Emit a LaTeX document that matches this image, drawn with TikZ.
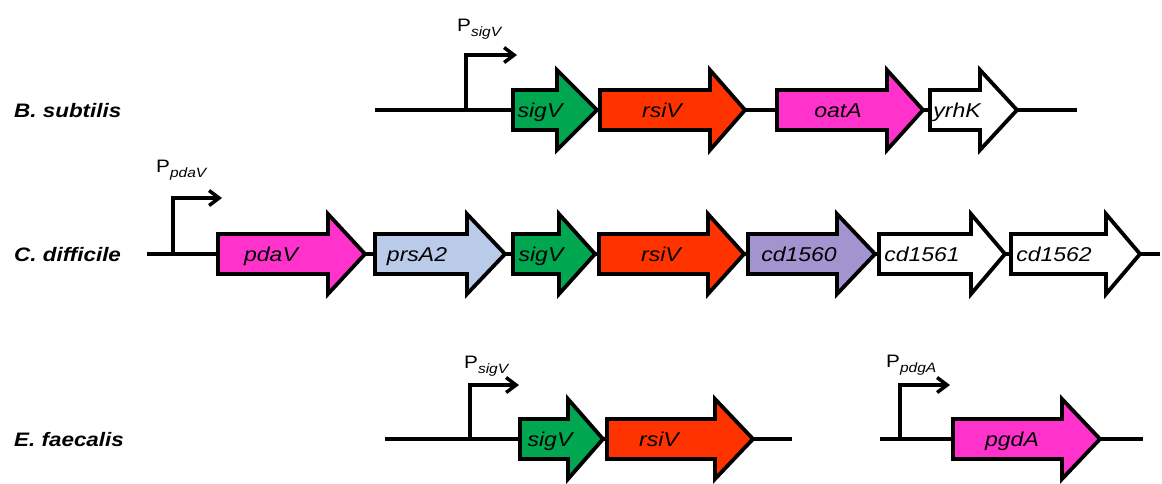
\documentclass[tikz,border=0pt]{standalone}
\usepackage{fontspec}
\setmainfont{Liberation Sans}
\usetikzlibrary{arrows.meta}
\definecolor{gGreen}{RGB}{0,166,80}
\definecolor{gRed}{RGB}{255,51,0}
\definecolor{gMag}{RGB}{255,51,204}
\definecolor{gBlue}{RGB}{185,203,232}
\definecolor{gPurp}{RGB}{163,148,207}
\newcommand\widetext[1]{\scalebox{1.15}[1]{#1}}
% gene: #1 x0, #2 head base, #3 tip, #4 y centre, #5 fill, #6 label, #7 label x, #8 node name
\newcommand\gene[8]{%
  \draw[genebox, fill=#5] ({#1},{#4-20}) -- ({#2},{#4-20}) -- ({#2},{#4-40}) -- ({#3},{#4})
    -- ({#2},{#4+40}) -- ({#2},{#4+20}) -- ({#1},{#4+20}) -- cycle;
  \node[genelabel] (#8) at ({#7},{#4+7}) {\widetext{#6}};}
\newcommand\promlabel[2]{\widetext{{\fontsize{18}{21}\selectfont P}\raisebox{-5pt}{\fontsize{13.5}{15}\selectfont\itshape #2}}}
\tikzset{
  genebox/.style={draw=black, line width=3.8pt, line join=miter, miter limit=10},
  genelabel/.style={anchor=base, inner sep=0pt, font=\fontsize{20}{23}\selectfont\itshape},
  dna/.style={draw=black, line width=3.5pt},
  prom/.style={draw=black, line width=3.5pt, -{Straight Barb[length=10pt,width=15pt,line width=3.5pt]}},
  orglabel/.style={anchor=base west, inner sep=0pt, font=\fontsize{19.5}{22}\selectfont\bfseries\itshape},
  plabel/.style={anchor=base west, inner sep=0pt},
}
\begin{document}
\begin{tikzpicture}[x=1pt,y=-1pt]
\useasboundingbox (0,0) rectangle (1162,483);
\fill[white] (0,0) rectangle (1162,483);
% organism labels
\node[orglabel] (bs) at (14,117) {\widetext{B. subtilis}};
\node[orglabel] (cd) at (14,261) {\widetext{C. difficile}};
\node[orglabel] (ef) at (14,446) {\widetext{E. faecalis}};
% DNA backbones
\coordinate (r1a) at (375,110); \coordinate (r1b) at (1077,110);
\coordinate (r2a) at (147,254); \coordinate (r2b) at (1160,254);
\coordinate (r3a) at (385,439); \coordinate (r3b) at (792,439);
\coordinate (r3c) at (880,439); \coordinate (r3d) at (1143,439);
\draw[dna] (r1a) -- (r1b);
\draw[dna] (r2a) -- (r2b);
\draw[dna] (r3a) -- (r3b);
\draw[dna] (r3c) -- (r3d);
% promoters
\coordinate (p1) at (466,110); \coordinate (p1e) at (517,55);
\draw[prom] (p1) |- (p1e);
\node[plabel] (pl1) at (457,31) {\promlabel{}{sigV}};
\coordinate (p2) at (173,254); \coordinate (p2e) at (222,198);
\draw[prom] (p2) |- (p2e);
\node[plabel] (pl2) at (156,172) {\promlabel{}{pdaV}};
\coordinate (p3) at (470,439); \coordinate (p3e) at (519,385);
\draw[prom] (p3) |- (p3e);
\node[plabel] (pl3) at (464,368) {\promlabel{}{sigV}};
\coordinate (p4) at (900,439); \coordinate (p4e) at (950,385);
\draw[prom] (p4) |- (p4e);
\node[plabel] (pl4) at (886,367) {\promlabel{}{pdgA}};
% B. subtilis genes
\gene{513}{557}{597}{110}{gGreen}{sigV}{540}{bsig}
\gene{600}{710}{745}{110}{gRed}{rsiV}{662}{brsi}
\gene{777}{887}{923}{110}{gMag}{oatA}{838}{boat}
\gene{930}{980}{1017}{110}{white}{yrhK}{957}{byrh}
% C. difficile genes
\gene{218}{328}{365}{254}{gMag}{pdaV}{271}{cpda}
\gene{375}{467}{505}{254}{gBlue}{prsA2}{417}{cprs}
\gene{513}{559}{595}{254}{gGreen}{sigV}{541}{csig}
\gene{599}{708}{744}{254}{gRed}{rsiV}{661}{crsi}
\gene{748}{837}{875}{254}{gPurp}{cd1560}{799}{c1560}
\gene{879}{971}{1005}{254}{white}{cd1561}{922}{c1561}
\gene{1011}{1106}{1140}{254}{white}{cd1562}{1054}{c1562}
% E. faecalis genes
\gene{520}{568}{603}{439}{gGreen}{sigV}{550}{esig}
\gene{607}{715}{753}{439}{gRed}{rsiV}{659}{ersi}
\gene{953}{1062}{1100}{439}{gMag}{pgdA}{1012}{epgd}
\end{tikzpicture}
\end{document}
